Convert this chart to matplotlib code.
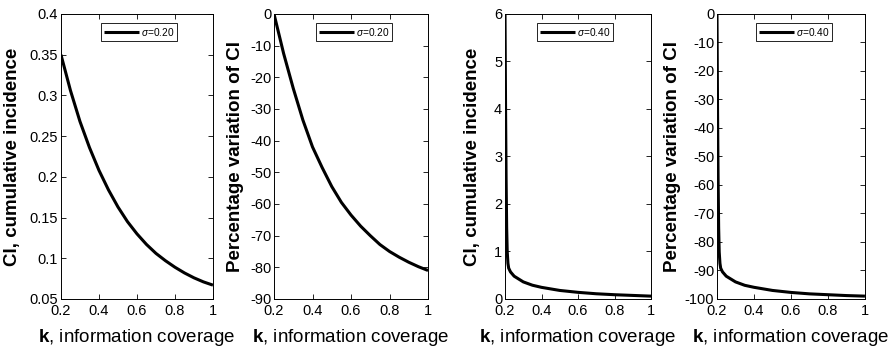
import numpy as np
import matplotlib

matplotlib.use("Agg")
import matplotlib.pyplot as plt  # noqa: E402
from matplotlib.ticker import FuncFormatter  # noqa: E402

plt.rcParams["font.family"] = ["Liberation Sans", "DejaVu Sans"]
plt.rcParams["mathtext.fontset"] = "custom"
plt.rcParams["mathtext.rm"] = "Liberation Sans"
plt.rcParams["mathtext.bf"] = "Liberation Sans:bold"
plt.rcParams["mathtext.it"] = "Liberation Sans:italic"

# --- data ---
k_020 = [0.20, 0.25, 0.30, 0.35, 0.40, 0.45, 0.50, 0.55, 0.60,
         0.65, 0.70, 0.75, 0.80, 0.85, 0.90, 0.95, 1.00]
ci_020 = [0.350, 0.306, 0.268, 0.236, 0.208, 0.184, 0.163, 0.145, 0.130,
          0.117, 0.106, 0.097, 0.089, 0.082, 0.076, 0.071, 0.067]
pv_020 = [0.0, -12.5, -23.5, -33.5, -42.0, -48.5, -54.5, -59.5, -63.5,
          -67.0, -70.0, -72.8, -75.0, -76.8, -78.4, -79.8, -81.0]

k_040 = [0.200, 0.203, 0.206, 0.209, 0.212, 0.216, 0.220, 0.230, 0.250,
         0.300, 0.350, 0.400, 0.500, 0.600, 0.700, 0.800, 0.900, 1.000]
ci_040 = [6.00, 4.00, 2.50, 1.50, 1.00, 0.75, 0.65, 0.57, 0.48,
          0.36, 0.29, 0.245, 0.18, 0.14, 0.11, 0.09, 0.075, 0.06]
pv_040 = [0.0, -33.0, -58.0, -75.0, -83.5, -87.5, -89.2, -90.5, -92.0,
          -94.0, -95.2, -95.9, -97.0, -97.7, -98.2, -98.5, -98.8, -99.0]

xticks = [0.2, 0.4, 0.6, 0.8, 1.0]
xlabel = r"$\mathbf{k}$, information coverage"

panels = [
    # (rect, k, y, ylim, yticks, ylabel, legend, ylabel x, legend right edge)
    ([0.0682, 0.1506, 0.1700, 0.8097], k_020, ci_020, (0.05, 0.4),
     np.arange(0.05, 0.401, 0.05), "CI, cumulative incidence", r"$\sigma$=0.20",
     -0.316, 0.763),
    ([0.3065, 0.1506, 0.1723, 0.8097], k_020, pv_020, (-90, 0),
     np.arange(-90, 1, 10), "Percentage variation of CI", r"$\sigma$=0.20",
     -0.253, 0.766),
    ([0.5649, 0.1506, 0.1633, 0.8097], k_040, ci_040, (0, 6),
     np.arange(0, 7, 1), "CI, cumulative incidence", r"$\sigma$=0.40",
     -0.226, 0.740),
    ([0.8020, 0.1506, 0.1655, 0.8097], k_040, pv_040, (-100, 0),
     np.arange(-100, 1, 10), "Percentage variation of CI", r"$\sigma$=0.40",
     -0.304, 0.777),
]


def short_num(v, _pos):
    # MATLAB-like tick labels: no trailing zeros
    s = f"{v:.2f}".rstrip("0").rstrip(".")
    return "0" if s in ("-0", "") else s


fig = plt.figure(figsize=(8.94, 3.52), dpi=100)
for rect, kk, yy, ylim, yt, ylab, leg, ylx, lgx in panels:
    ax = fig.add_axes(rect)
    ax.plot(kk, yy, color="black", lw=2.2, label=leg, solid_capstyle="butt")
    ax.set_xlim(0.2, 1.0)
    ax.set_ylim(*ylim)
    ax.set_xticks(xticks)
    ax.set_yticks(yt)
    ax.xaxis.set_major_formatter(FuncFormatter(short_num))
    ax.yaxis.set_major_formatter(FuncFormatter(short_num))
    ax.tick_params(direction="in", top=True, right=True, labelsize=10.5,
                   length=3.5, width=0.6, pad=2, colors="black")
    ax.tick_params(axis="x", pad=3.5)
    for sp in ax.spines.values():
        sp.set_linewidth(0.7)
    ax.set_xlabel(xlabel, fontsize=13.5)
    ax.xaxis.set_label_coords(0.5, -0.1)
    ax.set_ylabel(ylab, fontsize=13.5, fontweight="bold")
    ax.yaxis.set_label_coords(ylx, 0.5)
    ax.yaxis.label.set_verticalalignment("center")
    lg = ax.legend(loc="upper right", fontsize=7.3, handlelength=3.4,
                   handletextpad=0.2, borderpad=0.3, fancybox=False,
                   framealpha=1, edgecolor="black", bbox_to_anchor=(lgx, 0.97),
                   borderaxespad=0)
    lg.get_frame().set_linewidth(0.6)

fig.savefig("out.png", dpi=100)
